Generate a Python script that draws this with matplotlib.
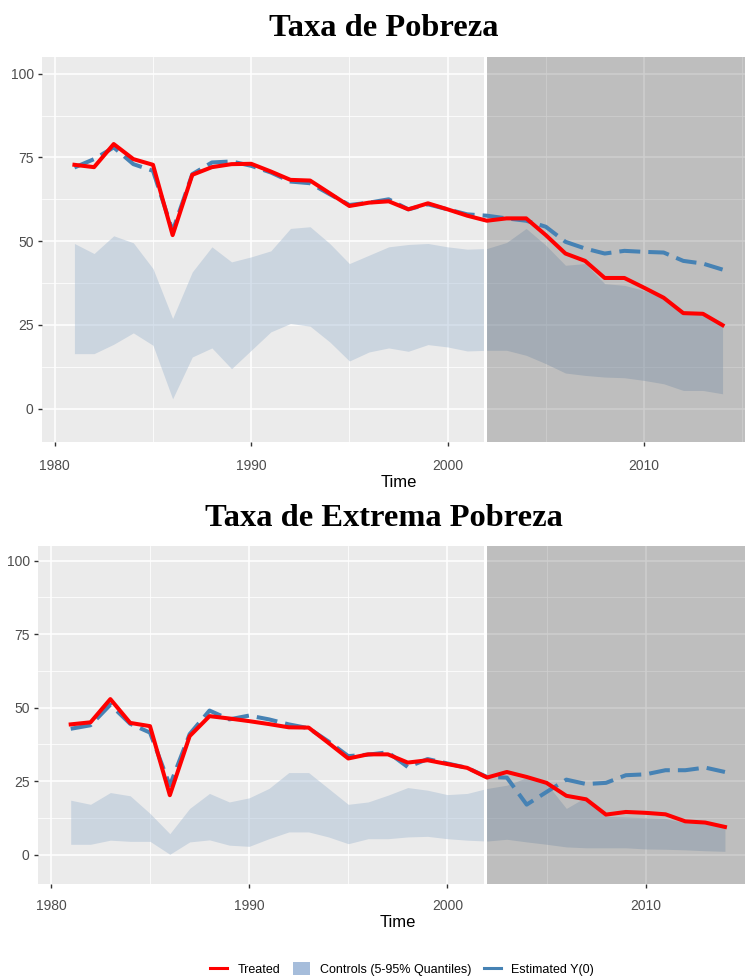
import numpy as np
import matplotlib
matplotlib.use('Agg')
import matplotlib.pyplot as plt
from matplotlib.lines import Line2D
from matplotlib.patches import Patch

years = np.arange(1981, 2015)
treat_year = 2001.9

# Taxa de Pobreza
pob_treated = [72.8, 72.1, 79.0, 74.5, 72.8, 51.8, 69.8, 72.1, 73.0, 73.1, 70.8, 68.3, 68.1, 64.3,
               60.5, 61.5, 61.9, 59.5, 61.3, 59.5, 57.6, 56.1, 56.8, 56.8, 51.8, 46.3, 44.1, 39.0,
               39.0, 36.1, 33.1, 28.5, 28.3, 24.9]
pob_synth = [72.0, 74.5, 78.0, 73.0, 71.0, 53.0, 70.0, 73.5, 73.8, 72.5, 70.5, 67.8, 67.3, 64.0,
             60.8, 61.5, 62.5, 59.5, 61.0, 59.5, 58.0, 57.6, 56.8, 56.1, 54.3, 49.8, 47.8, 46.3,
             47.1, 46.8, 46.6, 44.1, 43.3, 41.5]
pob_hi = [49.3, 46.3, 51.6, 49.5, 41.8, 26.9, 40.8, 48.3, 43.8, 45.3, 47.1, 53.8, 54.3, 49.3,
          43.3, 45.8, 48.3, 49.0, 49.3, 48.3, 47.6, 47.8, 49.6, 53.8, 48.8, 42.8, 43.3, 37.3,
          36.8, 35.3, 32.8, 28.3, 28.3, 25.8]
pob_lo = [16.4, 16.4, 19.2, 22.6, 18.9, 2.9, 15.4, 18.1, 11.9, 17.4, 22.9, 25.4, 24.6, 19.9,
          14.2, 16.9, 18.1, 17.1, 19.1, 18.4, 17.2, 17.4, 17.4, 15.9, 13.4, 10.6, 9.9, 9.4,
          9.2, 8.4, 7.4, 5.4, 5.4, 4.4]

# Taxa de Extrema Pobreza
ext_treated = [44.3, 45.0, 52.9, 44.8, 43.7, 20.2, 40.3, 47.1, 46.3, 45.4, 44.4, 43.3, 43.2, 38.0,
               32.7, 34.1, 34.1, 31.3, 32.1, 30.8, 29.5, 26.2, 28.1, 26.4, 24.4, 20.0, 18.8, 13.6,
               14.5, 14.2, 13.7, 11.3, 10.9, 9.4]
ext_synth = [42.8, 44.0, 51.0, 44.5, 41.5, 23.5, 41.0, 49.0, 46.0, 47.3, 46.0, 44.3, 43.0, 38.5,
             33.5, 34.0, 34.8, 29.8, 32.5, 31.0, 29.5, 26.4, 26.2, 17.0, 21.3, 25.5, 24.0, 24.4,
             27.0, 27.3, 28.7, 28.7, 29.6, 28.1]
ext_hi = [18.5, 17.1, 21.1, 20.0, 14.0, 7.1, 15.7, 20.8, 17.9, 19.3, 22.5, 27.9, 27.9, 22.5,
          17.1, 17.9, 20.2, 22.8, 21.9, 20.4, 20.8, 22.5, 23.6, 26.2, 24.2, 15.7, 19.6, 13.0,
          12.8, 12.5, 12.3, 10.8, 10.8, 9.4]
ext_lo = [3.5, 3.5, 4.9, 4.5, 4.5, 0.1, 4.3, 5.0, 3.2, 2.8, 5.4, 7.7, 7.7, 6.0,
          3.7, 5.4, 5.4, 6.0, 6.2, 5.4, 4.9, 4.6, 5.2, 4.3, 3.5, 2.6, 2.3, 2.3,
          2.3, 1.9, 1.8, 1.6, 1.3, 1.1]

tick_font = ['Liberation Sans Narrow', 'Liberation Sans', 'DejaVu Sans']
band_col = '#9FB7D0'
red = '#FF0000'
blue = '#4682B4'

fig = plt.figure(figsize=(7.45, 9.76), dpi=100)


def panel(rect, treated, synth, lo, hi, title, title_y, xpad, labelpad):
    ax = fig.add_axes(rect)
    ax.set_facecolor('#EBEBEB')
    for s in ax.spines.values():
        s.set_visible(False)
    ax.set_xlim(1979.35, 2015.65)
    ax.set_ylim(-10, 105)
    ax.set_xticks([1980, 1990, 2000, 2010])
    ax.set_xticks([1985, 1995, 2005, 2015], minor=True)
    ax.set_yticks([0, 25, 50, 75, 100])
    ax.set_yticks([12.5, 37.5, 62.5, 87.5], minor=True)
    ax.grid(which='major', color='white', lw=1.1, zorder=0)
    ax.grid(which='minor', color='white', lw=0.55, zorder=0)
    ax.set_axisbelow(True)
    ax.tick_params(which='major', length=3, width=1, color='#333333', labelcolor='#4D4D4D',
                   labelsize=10, pad=3)
    ax.tick_params(axis='x', which='major', pad=xpad)
    ax.tick_params(which='minor', length=0)
    for lab in ax.get_xticklabels() + ax.get_yticklabels():
        lab.set_family(tick_font)
    ax.fill_between(years, lo, hi, color=band_col, alpha=0.42, lw=0, zorder=1)
    ax.axvspan(treat_year, 2016, color='black', alpha=0.19, lw=0, zorder=2)
    ax.axvline(treat_year, color='white', lw=2.2, zorder=3)
    ax.plot(years, synth, color=blue, lw=2.9, dashes=(5.2, 2.0), zorder=4)
    ax.plot(years, treated, color=red, lw=2.9, zorder=5)
    ax.set_xlabel('Time', fontsize=12, family=tick_font, labelpad=labelpad)
    fig.text(0.515, title_y, title, ha='center', va='center', fontsize=23.4,
             family='Liberation Serif', weight='bold')
    return ax


panel([0.0564, 0.5471, 0.957, 0.3945], pob_treated, pob_synth, pob_lo, pob_hi,
      'Taxa de Pobreza', 1 - 28 / 976, 9, 2)
panel([0.0510, 0.0943, 0.966, 0.3463], ext_treated, ext_synth, ext_lo, ext_hi,
      'Taxa de Extrema Pobreza', 1 - 518 / 976, 8, 1)

handles = [Line2D([], [], color=red, lw=2.2),
           Patch(facecolor='#A6BDDB', edgecolor='none'),
           Line2D([], [], color=blue, lw=2.2)]
labels = ['Treated', 'Controls (5-95% Quantiles)', 'Estimated Y(0)']
leg = fig.legend(handles, labels, loc='center', bbox_to_anchor=(402 / 745, 0.007), ncol=3,
                 frameon=False, prop={'family': tick_font, 'size': 9},
                 handlelength=1.4, handleheight=1.2, columnspacing=1.0, handletextpad=0.8)

fig.savefig('out.png', dpi=100)
